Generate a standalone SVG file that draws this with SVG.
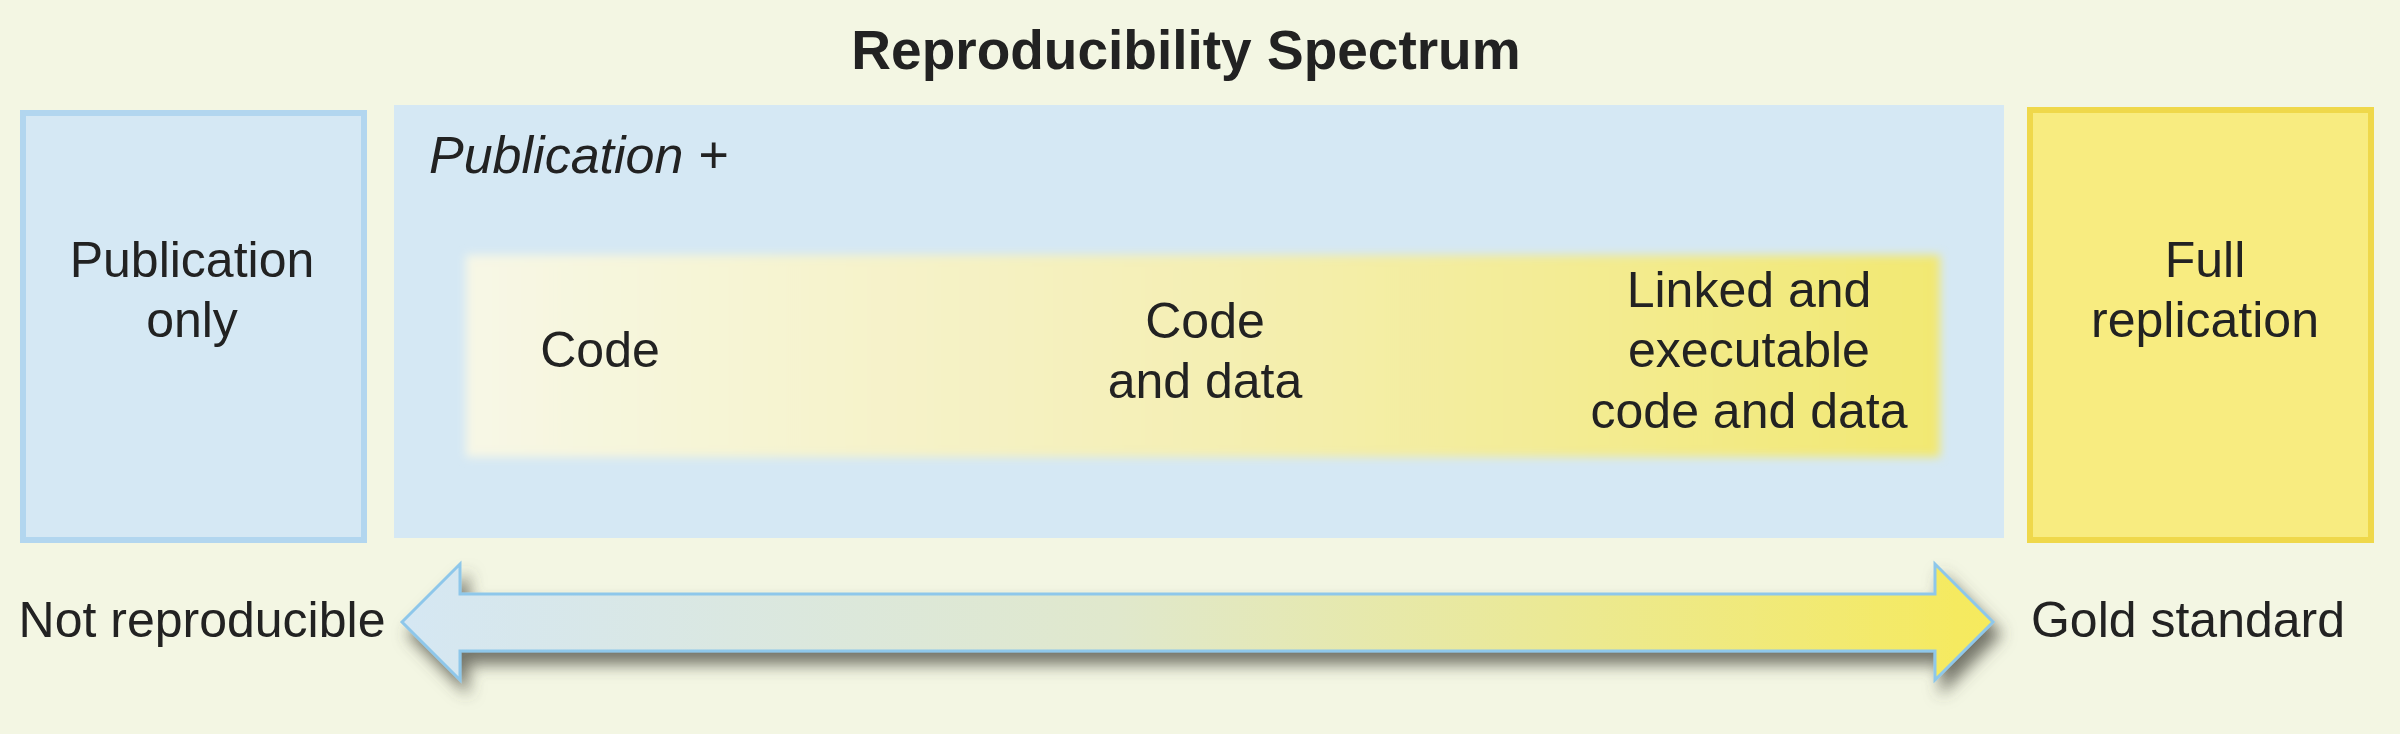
<svg xmlns="http://www.w3.org/2000/svg" width="2400" height="734" viewBox="0 0 2400 734">
<style>
.t{font-family:"Liberation Sans",Arial,sans-serif;font-size:50px;fill:#222;text-anchor:middle}
.title{font-family:"Liberation Sans",Arial,sans-serif;font-size:55px;font-weight:bold;fill:#222;text-anchor:middle}
.it{font-family:"Liberation Sans",Arial,sans-serif;font-size:52px;font-style:italic;fill:#222}
</style>
<defs>
<linearGradient id="inner" x1="0" y1="0" x2="1" y2="0">
<stop offset="0" stop-color="#f7f7e6"/>
<stop offset="0.5" stop-color="#f4efb4"/>
<stop offset="1" stop-color="#f2e872"/>
</linearGradient>
<linearGradient id="arr" gradientUnits="userSpaceOnUse" x1="402" y1="0" x2="1993" y2="0">
<stop offset="0" stop-color="#d5e7f3"/>
<stop offset="0.45" stop-color="#e0e8cc"/>
<stop offset="1" stop-color="#f6ea5c"/>
</linearGradient>
<filter id="soft" x="-5%" y="-20%" width="110%" height="140%">
<feGaussianBlur stdDeviation="5"/>
</filter>
<filter id="shadow" x="-5%" y="-50%" width="110%" height="200%">
<feDropShadow dx="7" dy="12" stdDeviation="8" flood-color="#4a4a40" flood-opacity="0.75"/>
</filter>
</defs>
<rect width="2400" height="734" fill="#f3f6e3"/>
<text class="title" x="1186" y="69">Reproducibility Spectrum</text>

<g id="publication-only">
<rect x="23" y="113" width="341" height="427" fill="#d5e8f4" stroke="#b2d6ef" stroke-width="6"/>
<text class="t" x="192" y="277">Publication</text>
<text class="t" x="192" y="337">only</text>
</g>

<g id="publication-plus">
<rect x="394" y="105" width="1610" height="433" fill="#d5e8f4"/>
<text class="it" x="429" y="173">Publication +</text>
<rect x="466" y="255" width="1474" height="202" fill="url(#inner)" filter="url(#soft)"/>
<g id="code">
<text class="t" x="600" y="367">Code</text>
</g>
<g id="code-and-data">
<text class="t" x="1205" y="338">Code</text>
<text class="t" x="1205" y="398">and data</text>
</g>
<g id="linked">
<text class="t" x="1749" y="307">Linked and</text>
<text class="t" x="1749" y="367">executable</text>
<text class="t" x="1749" y="428">code and data</text>
</g>
</g>

<g id="full-replication">
<rect x="2030" y="110" width="341" height="430" fill="#f8ec80" stroke="#efd84a" stroke-width="6"/>
<text class="t" x="2205" y="277">Full</text>
<text class="t" x="2205" y="337">replication</text>
</g>

<g id="connectors">
<polygon points="402,622 460,564 460,594 1935,594 1935,564 1993,622 1935,680 1935,651 460,651 460,680" fill="url(#arr)" stroke="#8ec7ea" stroke-width="3" stroke-linejoin="miter" filter="url(#shadow)"/>
</g>
<text class="t" x="202" y="637">Not reproducible</text>
<text class="t" x="2188" y="637">Gold standard</text>
</svg>
